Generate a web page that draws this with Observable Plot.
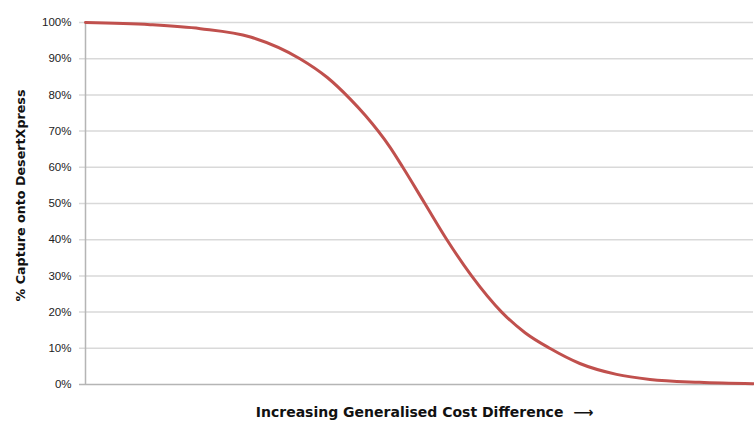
<!DOCTYPE html>
<html><head><meta charset="utf-8">
<script src="https://cdn.jsdelivr.net/npm/d3@7"></script>
<script src="https://cdn.jsdelivr.net/npm/@observablehq/plot@0.6"></script>
<style>body{margin:0;background:#fff}</style>
</head><body><div id="chart"></div>
<script>
const costDiff = [0, 9.7, 17.2, 24.7, 32.1, 36.2, 39.6, 41.9, 45.6, 47.5, 50.8, 54.1, 57.8, 62.3, 65.8, 69.5, 74.0, 79.5, 84.5, 91.9, 100];
const capture = [100, 99.4, 98.3, 96.0, 90.0, 84.8, 78.9, 74.3, 65.5, 60, 50, 40, 30, 20, 14.3, 10, 5.8, 2.8, 1.4, 0.6, 0.2];
const yTicks = [0, 10, 20, 30, 40, 50, 60, 70, 80, 90, 100];
const xTitle = "Increasing Generalised Cost Difference  \u27F6";
const yTitle = "% Capture onto DesertXpress";

const data = costDiff.map((x, i) => ({x, y: capture[i]}));

const chart = Plot.plot({
  width: 754, height: 421,
  marginTop: 22, marginBottom: 37, marginLeft: 85, marginRight: 1,
  style: {fontFamily: "'Liberation Sans', sans-serif", fontSize: "11.5px", color: "#222"},
  x: {domain: [0, 100], axis: null},
  y: {domain: [0, 100], axis: null},
  marks: [
    Plot.ruleY(yTicks.filter(d => d > 0), {stroke: "#d9d9d9", strokeWidth: 1.5, x1: -0.9, x2: 100}),
    Plot.ruleX([0], {stroke: "#b5b5b5", strokeWidth: 1.5}),
    Plot.ruleY([0], {stroke: "#b5b5b5", strokeWidth: 1.5, x1: -0.9, x2: 100}),
    Plot.axisY({ticks: yTicks, tickFormat: d => d + "%", tickSize: 0, tickPadding: 14, label: null, fontSize: 11.5}),
    Plot.line(data, {x: "x", y: "y", stroke: "#C0504D", strokeWidth: 3, curve: "monotone-x"}),
    Plot.text([xTitle], {frameAnchor: "bottom", lineAnchor: "middle", dx: 5, dy: 28, fontFamily: "'DejaVu Sans', sans-serif", fontWeight: "bold", fontSize: 14, fill: "#111"}),
    Plot.text([yTitle], {frameAnchor: "left", textAnchor: "middle", lineAnchor: "middle", dx: -65, dy: -8, rotate: -90, fontFamily: "'DejaVu Sans', sans-serif", fontWeight: "bold", fontSize: 12.7, fill: "#111"})
  ]
});
document.getElementById("chart").append(chart);
</script>
</body></html>
